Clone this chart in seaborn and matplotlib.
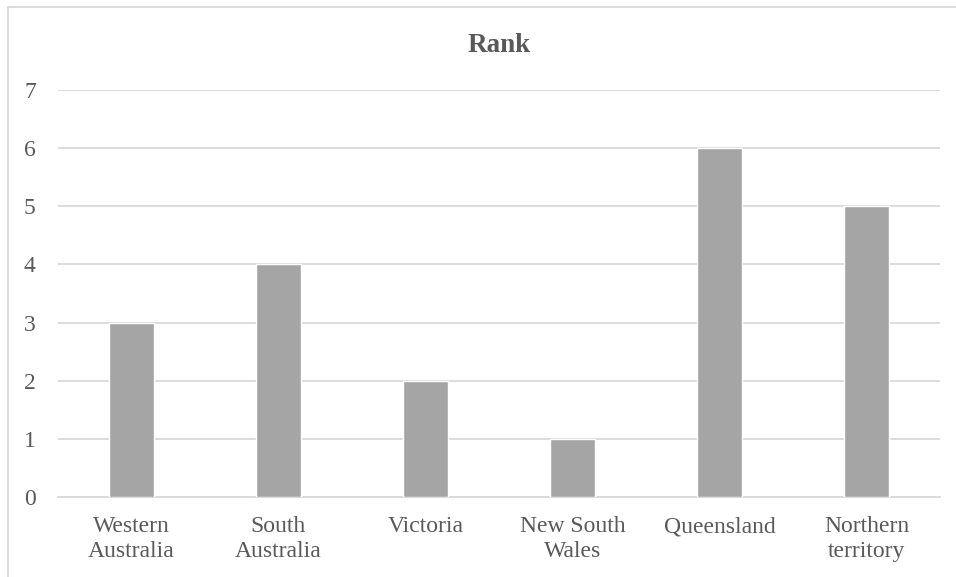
import matplotlib
matplotlib.use('Agg')
import matplotlib.pyplot as plt
import seaborn as sns
import pandas as pd
from matplotlib.lines import Line2D

states = ['Western\nAustralia', 'South\nAustralia', 'Victoria',
          'New South\nWales', 'Queensland', 'Northern\nterritory']
rank = [3, 4, 2, 1, 6, 5]

df = pd.DataFrame({'state': states, 'rank': rank})

sns.set_style('white')
plt.rcParams['font.family'] = ['Liberation Serif', 'DejaVu Serif']

fig = plt.figure(figsize=(9.56, 5.77), dpi=100)
ax = fig.add_axes([58/956, 1 - 497/577, (940 - 58)/956, (497 - 90)/577])

sns.barplot(data=df, x='state', y='rank', color='#A5A5A5', width=0.31,
            saturation=1, ax=ax, zorder=3)

ax.set_ylim(0, 7)
ax.set_yticks(range(0, 8))
ax.grid(axis='y', color='#D9D9D9', linewidth=1.3, zorder=0)
ax.set_axisbelow(True)
for s in ['top', 'right', 'left']:
    ax.spines[s].set_visible(False)
ax.spines['bottom'].set_color('#D9D9D9')
ax.spines['bottom'].set_linewidth(1.3)
ax.tick_params(axis='both', length=0, labelsize=17, colors='#595959')
ax.tick_params(axis='y', pad=16)
ax.tick_params(axis='x', pad=14)
for lbl in ax.get_xticklabels():
    lbl.set_linespacing(1.25)
ax.set_xlabel('')
ax.set_ylabel('')
ax.set_title('Rank', fontsize=19.5, fontweight='bold', color='#595959', pad=27)

# chart area border (left and top edges visible)
fig.add_artist(Line2D([8/956, 8/956], [0, 1 - 7/577], color='#D9D9D9', linewidth=1.3))
fig.add_artist(Line2D([8/956, 1], [1 - 7/577, 1 - 7/577], color='#D9D9D9', linewidth=1.3))

fig.savefig('out.png', dpi=100)
